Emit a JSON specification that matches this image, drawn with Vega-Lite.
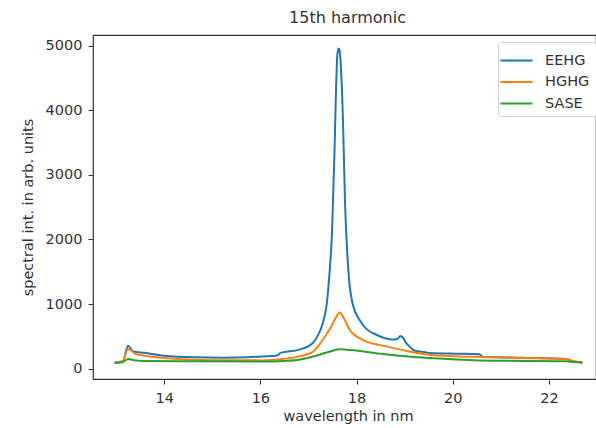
{
  "$schema": "https://vega.github.io/schema/vega-lite/v6.json",
  "autosize": "none",
  "width": 503,
  "height": 344,
  "padding": {"left": 93, "top": 35, "right": 0, "bottom": 49},
  "background": "white",
  "title": {"text": "15th harmonic", "fontSize": 16, "font": "DejaVu Sans", "fontWeight": "normal", "color": "#333", "dx": 3, "offset": 9},
  "config": {
    "font": "DejaVu Sans",
    "view": {"stroke": "#333", "strokeWidth": 1.2},
    "axis": {"grid": false, "domain": false, "tickColor": "#333", "tickSize": 5, "labelColor": "#333", "titleColor": "#333", "labelFontSize": 14.5, "titleFontSize": 14.5, "titleFontWeight": "normal", "labelFont": "DejaVu Sans", "titleFont": "DejaVu Sans"}
  },
  "datasets": {
    "spectra": [
      {"wl": 12.97, "int": 97, "mode": "EEHG"},
      {"wl": 13.14, "int": 113, "mode": "EEHG"},
      {"wl": 13.25, "int": 355, "mode": "EEHG"},
      {"wl": 13.35, "int": 270, "mode": "EEHG"},
      {"wl": 13.59, "int": 245, "mode": "EEHG"},
      {"wl": 14.0, "int": 200, "mode": "EEHG"},
      {"wl": 14.63, "int": 175, "mode": "EEHG"},
      {"wl": 15.22, "int": 170, "mode": "EEHG"},
      {"wl": 16.05, "int": 190, "mode": "EEHG"},
      {"wl": 16.35, "int": 205, "mode": "EEHG"},
      {"wl": 16.42, "int": 245, "mode": "EEHG"},
      {"wl": 16.81, "int": 294, "mode": "EEHG"},
      {"wl": 17.09, "int": 397, "mode": "EEHG"},
      {"wl": 17.2, "int": 520, "mode": "EEHG"},
      {"wl": 17.3, "int": 706, "mode": "EEHG"},
      {"wl": 17.38, "int": 1000, "mode": "EEHG"},
      {"wl": 17.44, "int": 1500, "mode": "EEHG"},
      {"wl": 17.49, "int": 2100, "mode": "EEHG"},
      {"wl": 17.54, "int": 3300, "mode": "EEHG"},
      {"wl": 17.57, "int": 4200, "mode": "EEHG"},
      {"wl": 17.6, "int": 4850, "mode": "EEHG"},
      {"wl": 17.626, "int": 4957, "mode": "EEHG"},
      {"wl": 17.65, "int": 4920, "mode": "EEHG"},
      {"wl": 17.68, "int": 4600, "mode": "EEHG"},
      {"wl": 17.72, "int": 3800, "mode": "EEHG"},
      {"wl": 17.76, "int": 2600, "mode": "EEHG"},
      {"wl": 17.8, "int": 1900, "mode": "EEHG"},
      {"wl": 17.855, "int": 1300, "mode": "EEHG"},
      {"wl": 17.92, "int": 1000, "mode": "EEHG"},
      {"wl": 18.06, "int": 757, "mode": "EEHG"},
      {"wl": 18.2, "int": 620, "mode": "EEHG"},
      {"wl": 18.41, "int": 525, "mode": "EEHG"},
      {"wl": 18.6, "int": 470, "mode": "EEHG"},
      {"wl": 18.75, "int": 450, "mode": "EEHG"},
      {"wl": 18.85, "int": 460, "mode": "EEHG"},
      {"wl": 18.91, "int": 505, "mode": "EEHG"},
      {"wl": 18.96, "int": 485, "mode": "EEHG"},
      {"wl": 19.03, "int": 400, "mode": "EEHG"},
      {"wl": 19.1, "int": 345, "mode": "EEHG"},
      {"wl": 19.2, "int": 280, "mode": "EEHG"},
      {"wl": 19.38, "int": 260, "mode": "EEHG"},
      {"wl": 19.52, "int": 242, "mode": "EEHG"},
      {"wl": 20.07, "int": 232, "mode": "EEHG"},
      {"wl": 20.56, "int": 225, "mode": "EEHG"},
      {"wl": 20.62, "int": 185, "mode": "EEHG"},
      {"wl": 21.46, "int": 170, "mode": "EEHG"},
      {"wl": 22.36, "int": 150, "mode": "EEHG"},
      {"wl": 22.5, "int": 113, "mode": "EEHG"},
      {"wl": 22.7, "int": 97, "mode": "EEHG"},

      {"wl": 12.97, "int": 95, "mode": "HGHG"},
      {"wl": 13.14, "int": 120, "mode": "HGHG"},
      {"wl": 13.25, "int": 304, "mode": "HGHG"},
      {"wl": 13.4, "int": 230, "mode": "HGHG"},
      {"wl": 13.59, "int": 201, "mode": "HGHG"},
      {"wl": 14.0, "int": 165, "mode": "HGHG"},
      {"wl": 14.63, "int": 139, "mode": "HGHG"},
      {"wl": 15.5, "int": 130, "mode": "HGHG"},
      {"wl": 16.05, "int": 128, "mode": "HGHG"},
      {"wl": 16.4, "int": 145, "mode": "HGHG"},
      {"wl": 16.81, "int": 190, "mode": "HGHG"},
      {"wl": 17.09, "int": 260, "mode": "HGHG"},
      {"wl": 17.3, "int": 448, "mode": "HGHG"},
      {"wl": 17.45, "int": 620, "mode": "HGHG"},
      {"wl": 17.57, "int": 790, "mode": "HGHG"},
      {"wl": 17.647, "int": 870, "mode": "HGHG"},
      {"wl": 17.75, "int": 760, "mode": "HGHG"},
      {"wl": 17.855, "int": 603, "mode": "HGHG"},
      {"wl": 18.0, "int": 500, "mode": "HGHG"},
      {"wl": 18.2, "int": 422, "mode": "HGHG"},
      {"wl": 18.62, "int": 345, "mode": "HGHG"},
      {"wl": 19.1, "int": 267, "mode": "HGHG"},
      {"wl": 19.52, "int": 216, "mode": "HGHG"},
      {"wl": 20.07, "int": 192, "mode": "HGHG"},
      {"wl": 20.56, "int": 181, "mode": "HGHG"},
      {"wl": 21.46, "int": 165, "mode": "HGHG"},
      {"wl": 22.36, "int": 150, "mode": "HGHG"},
      {"wl": 22.5, "int": 118, "mode": "HGHG"},
      {"wl": 22.7, "int": 97, "mode": "HGHG"},

      {"wl": 12.97, "int": 88, "mode": "SASE"},
      {"wl": 13.14, "int": 100, "mode": "SASE"},
      {"wl": 13.25, "int": 150, "mode": "SASE"},
      {"wl": 13.4, "int": 125, "mode": "SASE"},
      {"wl": 13.59, "int": 120, "mode": "SASE"},
      {"wl": 14.63, "int": 113, "mode": "SASE"},
      {"wl": 16.0, "int": 110, "mode": "SASE"},
      {"wl": 16.5, "int": 120, "mode": "SASE"},
      {"wl": 16.81, "int": 139, "mode": "SASE"},
      {"wl": 17.0, "int": 170, "mode": "SASE"},
      {"wl": 17.23, "int": 216, "mode": "SASE"},
      {"wl": 17.45, "int": 265, "mode": "SASE"},
      {"wl": 17.65, "int": 300, "mode": "SASE"},
      {"wl": 17.8, "int": 292, "mode": "SASE"},
      {"wl": 18.0, "int": 280, "mode": "SASE"},
      {"wl": 18.2, "int": 262, "mode": "SASE"},
      {"wl": 18.5, "int": 230, "mode": "SASE"},
      {"wl": 18.89, "int": 201, "mode": "SASE"},
      {"wl": 19.52, "int": 165, "mode": "SASE"},
      {"wl": 20.56, "int": 128, "mode": "SASE"},
      {"wl": 21.5, "int": 120, "mode": "SASE"},
      {"wl": 22.36, "int": 113, "mode": "SASE"},
      {"wl": 22.5, "int": 105, "mode": "SASE"},
      {"wl": 22.7, "int": 95, "mode": "SASE"}
    ]
  },
  "data": {"name": "spectra"},
  "mark": {"type": "line", "strokeWidth": 2, "interpolate": "monotone", "clip": true},
  "encoding": {
    "x": {"field": "wl", "type": "quantitative", "scale": {"domain": [12.52, 22.98], "nice": false, "zero": false},
      "axis": {"title": "wavelength in nm", "values": [14, 16, 18, 20, 22], "format": "d", "labelPadding": 7, "titlePadding": 5, "titleX": 255}},
    "y": {"field": "int", "type": "quantitative", "scale": {"domain": [-160, 5165], "nice": false, "zero": false},
      "axis": {"title": "spectral int. in arb. units", "values": [0, 1000, 2000, 3000, 4000, 5000], "format": "d", "labelPadding": 6, "titlePadding": 10}},
    "color": {"field": "mode", "type": "nominal", "sort": ["EEHG", "HGHG", "SASE"],
      "scale": {"domain": ["EEHG", "HGHG", "SASE"], "range": ["#1f77b4", "#ff7f0e", "#2ca02c"]},
      "legend": {"title": null, "orient": "none", "legendX": 405, "legendY": 7, "symbolType": "M-1.4,0H1.4", "symbolSize": 529, "symbolStrokeWidth": 2, "labelFontSize": 14.5, "labelColor": "#333", "labelOffset": 16, "rowPadding": 2.5, "padding": 6, "strokeColor": "#d0d0d0", "fillColor": "white", "cornerRadius": 3}}
  }
}
